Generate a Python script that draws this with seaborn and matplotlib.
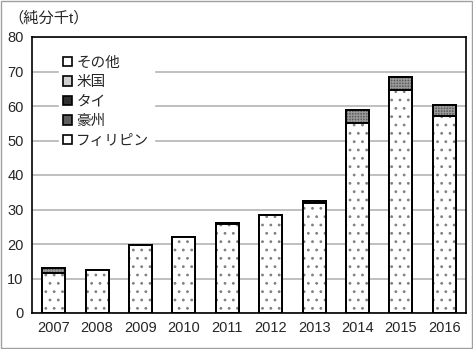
import numpy as np
import pandas as pd
import matplotlib
matplotlib.use('Agg')
import matplotlib.pyplot as plt
import matplotlib.patches as mpatches
import seaborn as sns

years = ['2007', '2008', '2009', '2010', '2011', '2012', '2013', '2014', '2015', '2016']
philippines = [11.6, 12.4, 19.7, 22.0, 25.9, 28.3, 31.8, 55.0, 64.5, 57.1]
australia = [1.4, 0.0, 0.0, 0.0, 0.1, 0.0, 0.8, 3.8, 4.0, 3.1]
thailand = [0.0, 0.0, 0.0, 0.0, 0.0, 0.0, 0.0, 0.0, 0.0, 0.0]
usa = [0.0, 0.0, 0.0, 0.0, 0.0, 0.0, 0.0, 0.0, 0.0, 0.0]
other = [0.0, 0.0, 0.0, 0.0, 0.0, 0.0, 0.0, 0.0, 0.0, 0.0]

sns.set_style('white')
plt.rcParams['font.family'] = ['Liberation Sans', 'Noto Sans CJK JP', 'DejaVu Sans']
plt.rcParams['hatch.linewidth'] = 0.8

df = pd.DataFrame({'year': years, 'phil': philippines, 'aus': australia,
                   'thai': thailand, 'usa': usa, 'other': other})
df['c_phil'] = df['phil']
df['c_aus'] = df['c_phil'] + df['aus']
df['c_thai'] = df['c_aus'] + df['thai']
df['c_usa'] = df['c_thai'] + df['usa']
df['c_other'] = df['c_usa'] + df['other']

fig = plt.figure(figsize=(4.73, 3.49), dpi=100)
ax = fig.add_axes([32 / 473, 1 - 313 / 349, 434 / 473, 276 / 349])

w = 0.53
# top layers first, then lower cumulative layers over them
layers = [
    ('c_other', 'white', '', 'black'),
    ('c_usa', '#d0d0d0', '....', '#909090'),
    ('c_thai', '#404040', '', 'black'),
    ('c_aus', '#5e5e5e', '++++++', '#9a9a9a'),
    ('c_phil', 'white', '..', '#808080'),
]
for col, fc, hatch, hc in layers:
    sns.barplot(data=df, x='year', y=col, ax=ax, width=w, color=fc,
                saturation=1, hatch=hatch, edgecolor=hc, linewidth=0)
    sns.barplot(data=df, x='year', y=col, ax=ax, width=w, fill=False,
                edgecolor='black', linewidth=1.4)

ax.set_xlim(-0.5, 9.5)
ax.set_ylim(0, 80)
ax.set_yticks(np.arange(0, 81, 10))
ax.grid(axis='y', color='#b4b4b4', linewidth=1.2)
ax.set_axisbelow(True)
ax.set_xlabel('')
ax.set_ylabel('')
for s in ax.spines.values():
    s.set_color('black')
    s.set_linewidth(1.2)
ax.tick_params(axis='x', which='major', length=0, labelsize=10.5, pad=6)
ax.tick_params(axis='y', length=0, labelsize=10.5, pad=6)
ax.set_xticks(np.arange(0.5, 9.5, 1), minor=True)
ax.tick_params(axis='x', which='minor', direction='in', length=4, color='#808080', width=1)

handles = [
    mpatches.Patch(facecolor='white', edgecolor='black', linewidth=1.2, label='その他'),
    mpatches.Patch(facecolor='#d0d0d0', edgecolor='black', linewidth=1.2, label='米国'),
    mpatches.Patch(facecolor='#303030', edgecolor='black', linewidth=1.2, label='タイ'),
    mpatches.Patch(facecolor='#5e5e5e', edgecolor='black', linewidth=1.2, label='豪州'),
    mpatches.Patch(facecolor='white', edgecolor='black', linewidth=1.2, label='フィリピン'),
]
leg = ax.legend(handles=handles, loc='upper left', bbox_to_anchor=(0.045, 0.975),
                frameon=True, fancybox=False, edgecolor='white', framealpha=1,
                fontsize=10.5, handlelength=0.6, handleheight=0.6, handletextpad=0.3,
                labelspacing=0.38, borderpad=0.3)

fig.text(8 / 473, 1 - 18 / 349, '（純分千t）', fontsize=11, va='center', ha='left')
fig.patches.append(mpatches.Rectangle((0.002, 0.003), 0.995, 0.994, transform=fig.transFigure,
                                      fill=False, edgecolor='#a0a0a0', linewidth=1))

fig.savefig('out.png', dpi=100)
